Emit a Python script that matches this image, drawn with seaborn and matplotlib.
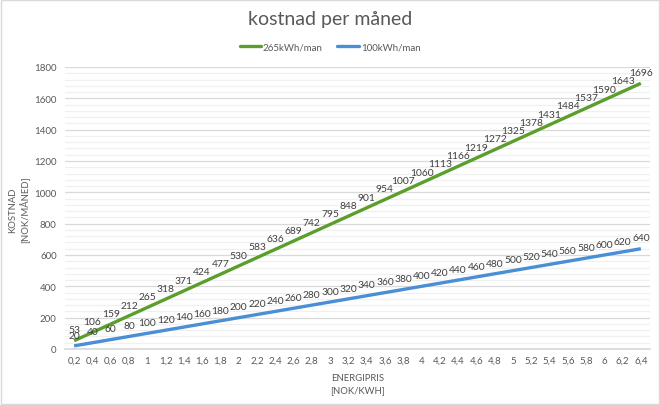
import matplotlib
matplotlib.use("Agg")
import matplotlib.pyplot as plt
import seaborn as sns
import pandas as pd
from matplotlib.patches import Rectangle
from matplotlib.ticker import MultipleLocator
from matplotlib.lines import Line2D

sns.set_theme(style="white")
plt.rcParams['font.family'] = ['Lato', 'DejaVu Sans']

energipris = [0.2, 0.4, 0.6, 0.8, 1.0, 1.2, 1.4, 1.6, 1.8, 2.0, 2.2, 2.4, 2.6, 2.8, 3.0, 3.2,
              3.4, 3.6, 3.8, 4.0, 4.2, 4.4, 4.6, 4.8, 5.0, 5.2, 5.4, 5.6, 5.8, 6.0, 6.2, 6.4]
tick_labels = ["0,2", "0,4", "0,6", "0,8", "1", "1,2", "1,4", "1,6", "1,8", "2", "2,2", "2,4",
               "2,6", "2,8", "3", "3,2", "3,4", "3,6", "3,8", "4", "4,2", "4,4", "4,6", "4,8",
               "5", "5,2", "5,4", "5,6", "5,8", "6", "6,2", "6,4"]
kost_265 = [53, 106, 159, 212, 265, 318, 371, 424, 477, 530, 583, 636, 689, 742, 795, 848,
            901, 954, 1007, 1060, 1113, 1166, 1219, 1272, 1325, 1378, 1431, 1484, 1537, 1590, 1643, 1696]
kost_100 = [20, 40, 60, 80, 100, 120, 140, 160, 180, 200, 220, 240, 260, 280, 300, 320,
            340, 360, 380, 400, 420, 440, 460, 480, 500, 520, 540, 560, 580, 600, 620, 640]
series_names = ["265kWh/man", "100kWh/man"]
colors = ["#5B9E2C", "#4A8FD6"]

df = pd.concat([
    pd.DataFrame({"x": energipris, "y": kost_265, "serie": series_names[0]}),
    pd.DataFrame({"x": energipris, "y": kost_100, "serie": series_names[1]}),
])

fig = plt.figure(figsize=(6.6, 4.06), dpi=100)
ax = fig.add_axes([65/660, 1-350/406, (650-65)/660, (350-68)/406])

sns.lineplot(data=df, x="x", y="y", hue="serie", palette=colors, linewidth=2.4,
             ax=ax, legend=False, solid_capstyle="butt")

for vals in (kost_265, kost_100):
    for xv, yv in zip(energipris, vals):
        ax.annotate(str(yv), (xv, yv), xytext=(0, 4.5), textcoords="offset points",
                    ha="center", va="bottom", fontsize=7.4, color="#404040")

ax.set_xlim(0.1, 6.5)
ax.set_ylim(0, 1800)
ax.set_xticks(energipris)
ax.set_xticklabels(tick_labels)
ax.yaxis.set_major_locator(MultipleLocator(200))
ax.yaxis.set_minor_locator(MultipleLocator(40))
ax.grid(axis="y", which="major", color="#D9D9D9", linewidth=0.9)
ax.grid(axis="y", which="minor", color="#F0F0F0", linewidth=0.9)
ax.set_axisbelow(True)
for s in ["top", "right", "left"]:
    ax.spines[s].set_visible(False)
ax.spines["bottom"].set_color("#D9D9D9")
ax.tick_params(axis="both", which="both", length=0, labelsize=7, colors="#595959")
ax.tick_params(axis="x", pad=5)
ax.tick_params(axis="y", pad=6)

ax.set_xlabel("ENERGIPRIS\n[NOK/KWH]", fontsize=6.8, color="#595959", linespacing=1.5)
ax.xaxis.set_label_coords(0.5, -0.085, transform=ax.transAxes)
ax.xaxis.label.set_va("top")
ax.set_ylabel("KOSTNAD\n[NOK/MÅNED]", fontsize=6.8, color="#595959")
ax.yaxis.set_label_coords(30/660, 1-210/406, transform=fig.transFigure)

fig.text(0.5, 1-20/406, "kostnad per måned", ha="center", va="center",
         fontsize=14, color="#595959", fontweight="normal")

handles = [Line2D([0], [0], color=c, lw=2.4) for c in colors]
fig.legend(handles, series_names, loc="center", bbox_to_anchor=(0.5, 1-48/406), ncol=2,
           frameon=False, fontsize=7, handlelength=2.2, handletextpad=0.2,
           columnspacing=1.5, labelcolor="#595959")

fig.add_artist(Rectangle((0.001, 0.002), 0.997, 0.995, transform=fig.transFigure,
                         fill=False, edgecolor="#D9D9D9", linewidth=1))

fig.savefig("out.png", dpi=100, facecolor="white")
